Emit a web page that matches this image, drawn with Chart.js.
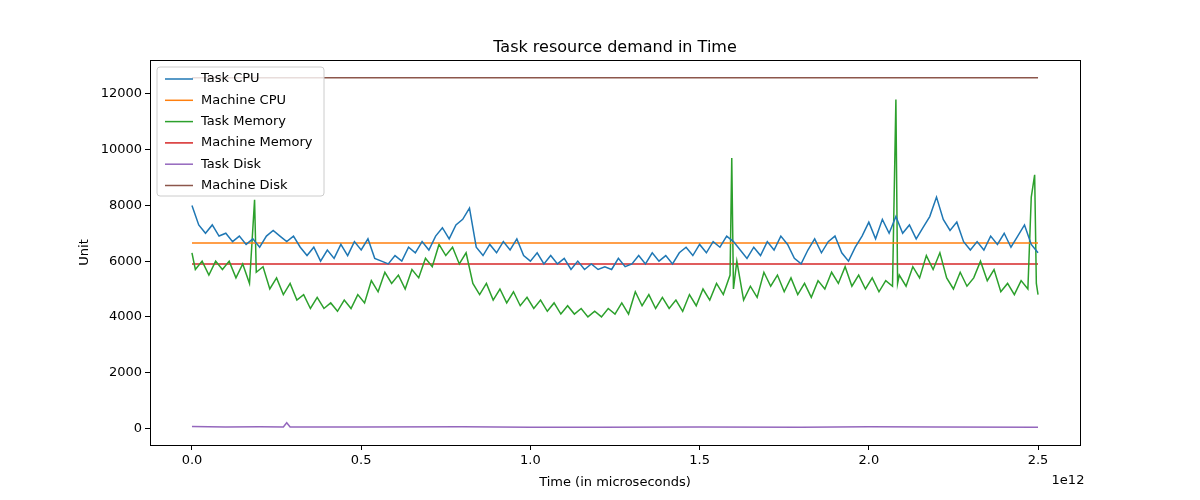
<!DOCTYPE html>
<html><head><meta charset="utf-8">
<script src="https://cdn.jsdelivr.net/npm/chart.js@4"></script>
<style>html,body{margin:0;padding:0;background:#fff}#c{display:block}</style>
</head><body>
<div style="width:1200px;height:500px"><canvas id="c" width="1200" height="500"></canvas></div>
<script>
const cpuTimes=[];for(let i=0;i<=125;i++)cpuTimes.push(+(i*0.02).toFixed(2));
const cpuValues=[8000,7300,7000,7300,6900,7000,6700,6900,6600,6800,6500,6900,7100,6900,6700,6900,6500,6200,6500,6000,6400,6100,6600,6200,6700,6400,6800,6100,6000,5900,6200,6000,6500,6300,6700,6400,6900,7200,6800,7300,7500,7900,6500,6200,6600,6300,6700,6400,6800,6200,6000,6300,5900,6200,5900,6100,5700,6000,5700,5900,5700,5800,5700,6100,5800,5900,6200,5900,6300,6000,6200,5900,6300,6500,6200,6600,6300,6700,6500,6900,6700,6400,6100,6500,6200,6700,6400,6900,6600,6100,5900,6400,6800,6300,6700,6900,6300,6000,6500,6900,7400,6800,7500,7000,7600,7000,7300,6800,7200,7600,8300,7500,7100,7400,6700,6400,6700,6400,6900,6600,7000,6500,6900,7300,6600,6300];
const memTimes=[0,0.01,0.03,0.05,0.07,0.09,0.11,0.13,0.15,0.17,0.185,0.19,0.21,0.23,0.25,0.27,0.29,0.31,0.33,0.35,0.37,0.39,0.41,0.43,0.45,0.47,0.49,0.51,0.53,0.55,0.57,0.59,0.61,0.63,0.65,0.67,0.69,0.71,0.73,0.75,0.77,0.79,0.81,0.83,0.85,0.87,0.89,0.91,0.93,0.95,0.97,0.99,1.01,1.03,1.05,1.07,1.09,1.11,1.13,1.15,1.17,1.19,1.21,1.23,1.25,1.27,1.29,1.31,1.33,1.35,1.37,1.39,1.41,1.43,1.45,1.47,1.49,1.51,1.53,1.55,1.57,1.59,1.595,1.60,1.61,1.63,1.65,1.67,1.69,1.71,1.73,1.75,1.77,1.79,1.81,1.83,1.85,1.87,1.89,1.91,1.93,1.95,1.97,1.99,2.01,2.03,2.05,2.07,2.08,2.085,2.09,2.11,2.13,2.15,2.17,2.19,2.21,2.23,2.25,2.27,2.29,2.31,2.33,2.35,2.37,2.39,2.41,2.43,2.45,2.47,2.48,2.49,2.495,2.50];
const memValues=[6300,5700,6000,5500,6000,5700,6000,5400,5900,5200,8200,5600,5800,5000,5400,4800,5200,4600,4800,4300,4700,4300,4500,4200,4600,4300,4800,4500,5300,4900,5600,5200,5500,5000,5700,5400,6100,5800,6600,6200,6500,5900,6300,5200,4800,5200,4600,5000,4500,4900,4400,4700,4300,4600,4200,4500,4100,4400,4100,4300,4000,4200,4000,4300,4100,4500,4100,4900,4400,4800,4300,4700,4300,4600,4200,4800,4400,5000,4600,5200,4800,5500,9700,5000,6000,4600,5100,4700,5600,5100,5500,4900,5400,4800,5200,4700,5300,5000,5600,5200,5800,5100,5500,5000,5400,4900,5300,5100,11800,5200,5500,5100,5800,5400,6200,5700,6300,5400,5000,5600,5100,5400,6000,5300,5700,4900,5200,4800,5300,5000,8300,9100,5200,4800];
const diskTimes=[0,0.1,0.2,0.27,0.28,0.29,0.5,0.8,1.0,1.2,1.5,1.8,2.0,2.2,2.5];
const diskValues=[60,50,55,50,200,50,45,55,40,35,50,40,55,45,40];
const machineCpu=6650, machineMem=5900, machineDisk=12580;
const xTicks=[0,0.5,1,1.5,2,2.5];
const names=['Task CPU','Machine CPU','Task Memory','Machine Memory','Task Disk','Machine Disk'];
const colors=['#1f77b4','#ff7f0e','#2ca02c','#d62728','#9467bd','#8c564b'];
const zip=(t,v)=>t.map((x,i)=>({x,y:v[i]}));
const flat=v=>[{x:0,y:v},{x:2.5,y:v}];
const series=[zip(cpuTimes,cpuValues),flat(machineCpu),zip(memTimes,memValues),flat(machineMem),zip(diskTimes,diskValues),flat(machineDisk)];
const font={family:'DejaVu Sans',size:13};
const deco={id:'deco',afterDraw(ch){const c=ch.ctx,a=ch.chartArea;c.save();
c.strokeStyle='#000';c.lineWidth=1;c.strokeRect(Math.round(a.left)+0.5,Math.round(a.top)+0.5,Math.round(a.right-a.left),Math.round(a.bottom-a.top));
c.fillStyle='#000';
c.font='16px DejaVu Sans';c.textAlign='center';c.textBaseline='alphabetic';c.fillText('Task resource demand in Time',(a.left+a.right)/2,52);
c.font='13px DejaVu Sans';c.fillText('Time (in microseconds)',(a.left+a.right)/2,486);c.fillText('1e12',a.right-12,484);
c.translate(88,(a.top+a.bottom)/2);c.rotate(-Math.PI/2);c.fillText('Unit',0,0);c.restore();
c.save();const lx=a.left+7,ly=a.top+7,w=167,h=129;c.fillStyle='rgba(255,255,255,0.8)';c.strokeStyle='#ccc';c.lineWidth=1;
c.beginPath();c.roundRect(lx,ly,w,h,3);c.fill();c.stroke();c.font='13px DejaVu Sans';c.textBaseline='middle';c.textAlign='left';
names.forEach((n,i)=>{const y=ly+12+i*21.3;c.strokeStyle=colors[i];c.lineWidth=1.5;c.beginPath();c.moveTo(lx+8,y);c.lineTo(lx+36,y);c.stroke();c.fillStyle='#000';c.fillText(n,lx+44,y);});c.restore();}};
new Chart(document.getElementById('c'),{type:'line',
data:{datasets:series.map((d,i)=>({label:names[i],data:d,borderColor:colors[i],borderWidth:1.5,pointRadius:0,tension:0,fill:false}))},
options:{responsive:false,animation:false,parsing:true,
layout:{padding:{top:60,right:120,left:0,bottom:0}},
plugins:{legend:{display:false},title:{display:false},tooltip:{enabled:false}},
scales:{x:{type:'linear',min:-0.124,max:2.624,afterFit(s){s.height=55;},
afterBuildTicks(s){s.ticks=xTicks.map(v=>({value:v}));},
ticks:{font,color:'#000',callback:v=>v.toFixed(1),autoSkip:false,maxRotation:0},
grid:{drawOnChartArea:false,drawTicks:true,tickLength:5,color:'#000'},border:{display:true,color:'#000'}},
y:{min:-600,max:13220,afterFit(s){s.width=150;},
afterBuildTicks(s){s.ticks=[0,2000,4000,6000,8000,10000,12000].map(v=>({value:v}));},
ticks:{font,color:'#000',callback:v=>String(v)},
grid:{drawOnChartArea:false,drawTicks:true,tickLength:5,color:'#000'},border:{display:true,color:'#000'}}}},
plugins:[deco]});
</script></body></html>
